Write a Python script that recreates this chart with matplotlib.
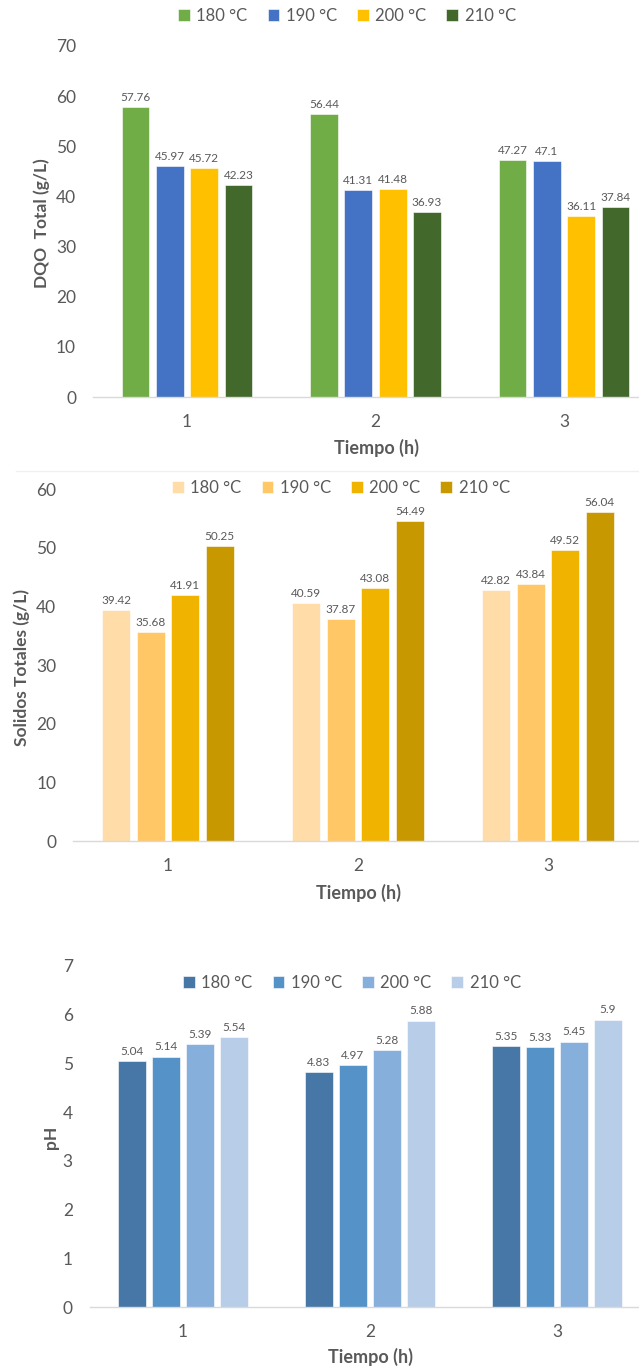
import matplotlib.pyplot as plt
import numpy as np

plt.rcParams['font.family'] = ['Lato', 'DejaVu Sans']

tiempo = ['1', '2', '3']
series = ['180 °C', '190 °C', '200 °C', '210 °C']

# DQO total (g/L)
dqo_180 = [57.76, 56.44, 47.27]
dqo_190 = [45.97, 41.31, 47.1]
dqo_200 = [45.72, 41.48, 36.11]
dqo_210 = [42.23, 36.93, 37.84]

# Solidos totales (g/L)
st_180 = [39.42, 40.59, 42.82]
st_190 = [35.68, 37.87, 43.84]
st_200 = [41.91, 43.08, 49.52]
st_210 = [50.25, 54.49, 56.04]

# pH
ph_180 = [5.04, 4.83, 5.35]
ph_190 = [5.14, 4.97, 5.33]
ph_200 = [5.39, 5.28, 5.45]
ph_210 = [5.54, 5.88, 5.9]

gray = '#595959'
W, H = 639, 1368
fig = plt.figure(figsize=(W / 100, H / 100), dpi=100)


def panel(rect, data, colors, ymax, ystep, ylabel, ylab_xy, xlab_xy, leg_xy):
    ax = fig.add_axes(rect)
    x = np.arange(len(tiempo))
    pitch, width = 0.182, 0.147
    for i, (vals, c, name) in enumerate(zip(data, colors, series)):
        pos = x + (i - 1.5) * pitch
        bars = ax.bar(pos, vals, width, color=c, label=name,
                      edgecolor='white', linewidth=0.4)
        ax.bar_label(bars, labels=['{:g}'.format(v) for v in vals],
                     padding=3, fontsize=8.5, color=gray)
    ax.set_xlim(-0.5, 2.5)
    ax.set_ylim(0, ymax)
    ax.set_yticks(np.arange(0, ymax + 0.01, ystep))
    ax.set_xticks(x)
    ax.set_xticklabels(tiempo)
    ax.tick_params(length=0, labelsize=12.5, colors=gray, pad=12)
    for s in ['top', 'right', 'left']:
        ax.spines[s].set_visible(False)
    ax.spines['bottom'].set_color('#D9D9D9')
    ax.spines['bottom'].set_linewidth(1)
    fig.text(ylab_xy[0] / W, 1 - ylab_xy[1] / H, ylabel, rotation=90,
             ha='center', va='center', fontsize=12.5, fontweight='bold', color=gray)
    fig.text(xlab_xy[0] / W, 1 - xlab_xy[1] / H, 'Tiempo (h)',
             ha='center', va='center', fontsize=13, fontweight='bold', color=gray)
    fig.legend(*ax.get_legend_handles_labels(), loc='center', ncol=4,
               bbox_to_anchor=(leg_xy[0] / W, 1 - leg_xy[1] / H),
               frameon=False, fontsize=12, handlelength=0.7, handleheight=0.7,
               handletextpad=0.4, columnspacing=1.2, labelcolor=gray)
    return ax


panel([92.75 / W, 1 - 397 / H, 565.5 / W, 351 / H],
      [dqo_180, dqo_190, dqo_200, dqo_210],
      ['#70AD47', '#4472C4', '#FFC000', '#43682B'],
      70, 10, 'DQO  Total (g/L)', (42, 223), (376, 448), (347, 16))

panel([73 / W, 1 - 841 / H, 570 / W, 352 / H],
      [st_180, st_190, st_200, st_210],
      ['#FFDCA8', '#FFC766', '#F0B300', '#C89800'],
      60, 10, 'Solidos Totales (g/L)', (22, 667), (358, 893), (341, 488))

panel([89.5 / W, 1 - 1307 / H, 561 / W, 341 / H],
      [ph_180, ph_190, ph_200, ph_210],
      ['#4677A7', '#5592C8', '#86AFDC', '#B8CDE7'],
      7, 1, 'pH', (51, 1137), (370, 1357), (352, 983))

# faint frame line above the second chart
fig.add_artist(plt.Line2D([16 / W, 1], [1 - 471 / H, 1 - 471 / H],
                          color='#F0F0F0', linewidth=1))

fig.savefig('out.png', dpi=100)
